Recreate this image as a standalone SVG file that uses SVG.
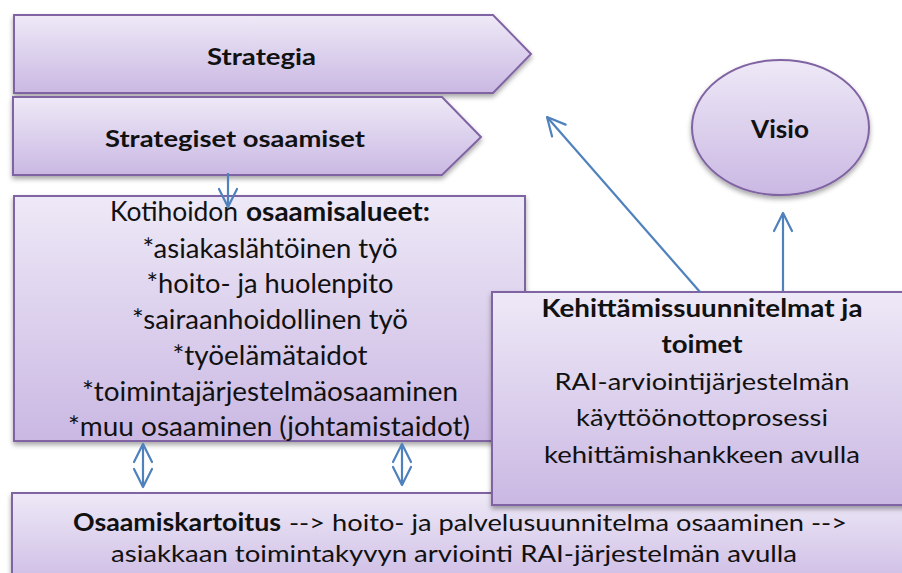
<svg xmlns="http://www.w3.org/2000/svg" width="902" height="573" viewBox="0 0 902 573">
  <defs>
    <linearGradient id="g" x1="0" y1="0" x2="0" y2="1">
      <stop offset="0" stop-color="#EEE9F7"/>
      <stop offset="1" stop-color="#CAB8E3"/>
    </linearGradient>
    <filter id="sh" x="-5%" y="-5%" width="110%" height="120%">
      <feDropShadow dx="0" dy="3" stdDeviation="2.5" flood-color="#000" flood-opacity="0.35"/>
    </filter>
    <marker id="ah" markerUnits="userSpaceOnUse" markerWidth="24" markerHeight="24" refX="0" refY="0" viewBox="-22 -12 24 24" orient="auto-start-reverse">
      <path d="M-18,-9 L0,0 L-18,9" fill="none" stroke="#4F81BD" stroke-width="2.2" stroke-linecap="round" stroke-linejoin="round"/>
    </marker>
  </defs>
  <style>
    .box { fill: url(#g); stroke: #8064A2; stroke-width: 2; filter: url(#sh); }
    text { font-family: Lato, "Open Sans", "Liberation Sans", sans-serif; fill: #111; }
    .b { font-weight: bold; }
    .m { text-anchor: middle; }
    .lst { font-size: 26px; }
    .con { stroke: #4F81BD; stroke-width: 2.2; fill: none; }
  </style>
  <rect width="902" height="573" fill="#fff"/>

  <g id="strategia">
    <path class="box" d="M14,15 L493,15 L531,54 L493,93 L14,93 Z"/>
    <text class="b m" x="261.5" y="65" font-size="22" textLength="109" lengthAdjust="spacingAndGlyphs">Strategia</text>
  </g>

  <g id="strategiset">
    <path class="box" d="M13,97 L442,97 L481,137 L442,175 L13,175 Z"/>
    <text class="b m" x="235" y="147" font-size="22" textLength="260" lengthAdjust="spacingAndGlyphs">Strategiset osaamiset</text>
  </g>

  <g id="osaamisalueet">
    <rect class="box" x="14" y="196" width="511" height="245"/>
    <text class="lst" x="110" y="221" textLength="128" lengthAdjust="spacingAndGlyphs">Kotihoidon</text>
    <text class="lst b" x="246" y="221" textLength="184" lengthAdjust="spacingAndGlyphs">osaamisalueet:</text>
    <text class="lst m" x="270" y="258" textLength="255" lengthAdjust="spacingAndGlyphs">*asiakaslähtöinen työ</text>
    <text class="lst m" x="270" y="293" textLength="247" lengthAdjust="spacingAndGlyphs">*hoito- ja huolenpito</text>
    <text class="lst m" x="270" y="329" textLength="276" lengthAdjust="spacingAndGlyphs">*sairaanhoidollinen työ</text>
    <text class="lst m" x="270" y="365" textLength="195" lengthAdjust="spacingAndGlyphs">*työelämätaidot</text>
    <text class="lst m" x="270" y="401" textLength="376" lengthAdjust="spacingAndGlyphs">*toimintajärjestelmäosaaminen</text>
    <text class="lst m" x="269" y="436" textLength="402" lengthAdjust="spacingAndGlyphs">*muu osaaminen (johtamistaidot)</text>
  </g>

  <g id="osaamiskartoitus">
    <rect class="box" x="12" y="493" width="900" height="100"/>
    <text class="b" x="73" y="531" font-size="24" textLength="208" lengthAdjust="spacingAndGlyphs">Osaamiskartoitus</text>
    <text x="289" y="531" font-size="24" textLength="558" lengthAdjust="spacingAndGlyphs">--&gt; hoito- ja palvelusuunnitelma osaaminen --&gt;</text>
    <text class="m" x="454" y="562" font-size="24" textLength="686" lengthAdjust="spacingAndGlyphs">asiakkaan toimintakyvyn arviointi RAI-järjestelmän avulla</text>
  </g>

  <g id="kehittamis">
    <rect class="box" x="492" y="292" width="420" height="213"/>
    <text class="b m" x="702" y="317" font-size="24" textLength="321" lengthAdjust="spacingAndGlyphs">Kehittämissuunnitelmat ja</text>
    <text class="b m" x="702" y="353" font-size="24" textLength="81" lengthAdjust="spacingAndGlyphs">toimet</text>
    <text class="m" x="702" y="390" font-size="24" textLength="295" lengthAdjust="spacingAndGlyphs">RAI-arviointijärjestelmän</text>
    <text class="m" x="702" y="426" font-size="24" textLength="252" lengthAdjust="spacingAndGlyphs">käyttöönottoprosessi</text>
    <text class="m" x="702" y="463" font-size="24" textLength="316" lengthAdjust="spacingAndGlyphs">kehittämishankkeen avulla</text>
  </g>

  <g id="visio">
    <ellipse class="box" cx="780.5" cy="127.5" rx="88.5" ry="67.5"/>
    <text class="b m" x="780" y="138" font-size="24" textLength="58" lengthAdjust="spacingAndGlyphs">Visio</text>
  </g>

  <g id="connectors">
    <line class="con" x1="228" y1="173" x2="228" y2="207" marker-end="url(#ah)"/>
    <line class="con" x1="700" y1="292" x2="547" y2="117" marker-end="url(#ah)"/>
    <line class="con" x1="783" y1="291" x2="783" y2="213" marker-end="url(#ah)"/>
    <line class="con" x1="143" y1="444" x2="143" y2="487" marker-start="url(#ah)" marker-end="url(#ah)"/>
    <line class="con" x1="402" y1="444" x2="402" y2="485" marker-start="url(#ah)" marker-end="url(#ah)"/>
  </g>
</svg>
